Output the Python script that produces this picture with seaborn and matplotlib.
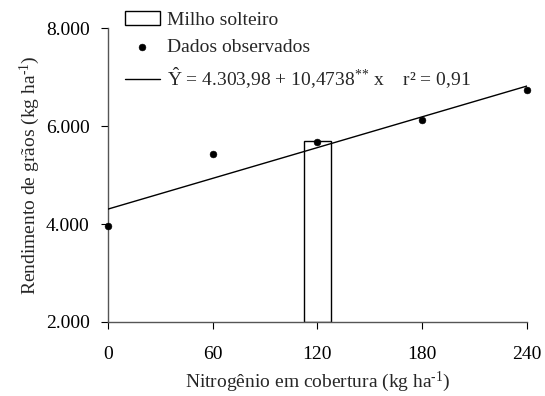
import matplotlib
matplotlib.use("Agg")
import matplotlib.pyplot as plt
import seaborn as sns
import numpy as np
import pandas as pd

# data
nitrogen = [0, 60, 120, 180, 240]
yield_obs = [3950, 5420, 5680, 6120, 6740]
single_x = [120]
single_y = [5700]
single_width = 15
intercept = 4303.98
slope = 10.4738
x_ticks = [0, 60, 120, 180, 240]
y_ticks = [2000, 4000, 6000, 8000]
y_tick_labels = ["2.000", "4.000", "6.000", "8.000"]

sns.set_theme(style="ticks")
plt.rcParams['font.family'] = ['Liberation Serif', 'DejaVu Serif']
plt.rcParams['mathtext.fontset'] = 'custom'
plt.rcParams['mathtext.rm'] = 'Liberation Serif'
plt.rcParams['mathtext.it'] = 'Liberation Serif'

fig = plt.figure(figsize=(5.45, 3.96), dpi=100)
ax = fig.add_axes([0.198, 0.187, 0.769, 0.742])

fs = 14

ax.bar(single_x, [v - 2000 for v in single_y], bottom=2000, width=single_width,
       facecolor='white', edgecolor='black', linewidth=1.0, label='Milho solteiro', zorder=2)

df = pd.DataFrame({"N": nitrogen, "Y": yield_obs})
sns.scatterplot(data=df, x="N", y="Y", ax=ax, color='black', s=24, edgecolor='black',
                label='Dados observados', zorder=4, clip_on=False)

xl = np.array([nitrogen[0], nitrogen[-1]])
line_df = pd.DataFrame({"N": xl, "Y": intercept + slope * xl})
sns.lineplot(data=line_df, x="N", y="Y", ax=ax, color='black', linewidth=1.0,
             label=r'$\hat{\mathrm{Y}}$ = 4.303,98 + 10,4738$^{{*}{*}}$ x    r² = 0,91', zorder=3)

ax.set_xlim(0, 240)
ax.set_ylim(2000, 8000)
ax.set_xticks(x_ticks)
ax.set_xticklabels([str(t) for t in x_ticks], fontsize=fs)
ax.set_yticks(y_ticks)
ax.set_yticklabels(y_tick_labels, fontsize=fs)
ax.tick_params(axis='both', direction='out', length=5, width=0.8, colors='black', pad=8)
ax.tick_params(axis='x', pad=12)
ax.set_xlabel(r'Nitrogênio em cobertura (kg ha$^{\text{-1}}$)', fontsize=fs, labelpad=5)
ax.set_ylabel(r'Rendimento de grãos (kg ha$^{\text{-1}}$)', fontsize=fs, labelpad=3)
for s in ['top', 'right']:
    ax.spines[s].set_visible(False)
for s in ['left', 'bottom']:
    ax.spines[s].set_color('#555555')
    ax.spines[s].set_linewidth(1.0)

h, l = ax.get_legend_handles_labels()
order = [l.index('Milho solteiro'), l.index('Dados observados')] + [i for i in range(len(l)) if l[i] not in ('Milho solteiro', 'Dados observados')]
leg = ax.legend([h[i] for i in order], [l[i] for i in order], loc='upper left',
                bbox_to_anchor=(0.022, 1.085), frameon=False, fontsize=fs,
                handlelength=1.8, handletextpad=0.35, labelspacing=0.5, borderaxespad=0)

fig.savefig('out.png', dpi=100)
